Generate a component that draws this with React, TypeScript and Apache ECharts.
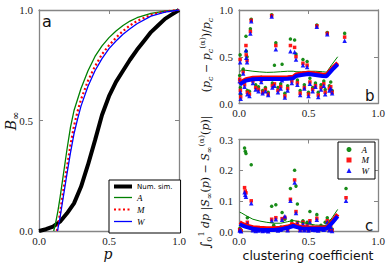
import React, { useEffect, useRef } from 'react';
import * as echarts from 'echarts';

// ---------- Panel a : B_inf vs p ----------
const simP = [0, 0.05, 0.1, 0.15, 0.2, 0.25, 0.3, 0.35, 0.4, 0.45, 0.5, 0.55, 0.6, 0.65, 0.7, 0.75, 0.8, 0.85, 0.9, 0.95, 1.0];
const simB = [0, 0.008, 0.02, 0.042, 0.08, 0.125, 0.2, 0.3, 0.41, 0.525, 0.61, 0.675, 0.725, 0.775, 0.82, 0.86, 0.9, 0.93, 0.96, 0.98, 1.0];
const modelAP = [0.105, 0.12, 0.135, 0.15, 0.175, 0.2, 0.225, 0.25, 0.3, 0.35, 0.4, 0.45, 0.5, 0.55, 0.6, 0.65, 0.7, 0.8, 0.9, 1.0];
const modelAB = [0, 0.04, 0.09, 0.15, 0.26, 0.37, 0.47, 0.545, 0.645, 0.725, 0.79, 0.838, 0.875, 0.905, 0.93, 0.95, 0.965, 0.985, 0.995, 1.0];
const modelMP = [0.128, 0.14, 0.15, 0.175, 0.2, 0.225, 0.25, 0.275, 0.3, 0.35, 0.4, 0.45, 0.5, 0.55, 0.6, 0.65, 0.7, 0.8, 0.9, 1.0];
const modelMB = [0, 0.04, 0.08, 0.19, 0.29, 0.39, 0.475, 0.54, 0.595, 0.68, 0.745, 0.8, 0.84, 0.875, 0.905, 0.93, 0.95, 0.978, 0.993, 1.0];
const modelWP = [0.132, 0.15, 0.175, 0.2, 0.225, 0.25, 0.275, 0.3, 0.35, 0.4, 0.45, 0.5, 0.55, 0.6, 0.65, 0.7, 0.8, 0.9, 1.0];
const modelWB = [0, 0.06, 0.16, 0.26, 0.355, 0.44, 0.505, 0.565, 0.655, 0.725, 0.78, 0.825, 0.86, 0.89, 0.915, 0.938, 0.972, 0.99, 1.0];

// ---------- Panel b : relative threshold error vs clustering ----------
const bX = [0.005, 0.008, 0.01, 0.012, 0.03, 0.04, 0.05, 0.052, 0.058, 0.06, 0.075, 0.082, 0.088, 0.1, 0.12, 0.14, 0.16, 0.17, 0.19, 0.21, 0.235, 0.24, 0.255, 0.265, 0.28, 0.3, 0.31, 0.33, 0.35, 0.37, 0.38, 0.4, 0.41, 0.42, 0.44, 0.46, 0.47, 0.49, 0.5, 0.51, 0.53, 0.55, 0.56, 0.57, 0.59, 0.61, 0.62, 0.635, 0.65, 0.66, 0.67, 0.76];
const bA = [0.3, 0.52, 0.17, 0.1, 0.37, 0.23, 0.72, 0.56, 0.5, 0.14, 0.13, 0.8, 0.9, 0.27, 0.2, 0.18, 0.28, 0.14, 0.17, 0.12, 0.95, 0.22, 0.41, 0.65, 0.17, 0.21, 0.42, 0.11, 0.19, 0.69, 0.27, 0.68, 0.53, 0.25, 0.14, 0.47, 0.2, 0.45, 0.12, 0.27, 0.17, 0.22, 0.84, 0.12, 0.2, 0.24, 0.15, 0.76, 0.19, 0.23, 0.14, 0.75];
const bM = [0.26, 0.47, 0.14, 0.07, 0.34, 0.2, 0.62, 0.52, 0.46, 0.12, 0.1, 0.77, 0.89, 0.24, 0.17, 0.15, 0.25, 0.12, 0.15, 0.1, 0.94, 0.19, 0.21, 0.62, 0.14, 0.18, 0.27, 0.08, 0.16, 0.62, 0.24, 0.6, 0.5, 0.22, 0.11, 0.43, 0.17, 0.41, 0.1, 0.23, 0.15, 0.19, 0.83, 0.09, 0.17, 0.21, 0.12, 0.75, 0.16, 0.18, 0.12, 0.71];
const bW = [0.24, 0.44, 0.12, 0.05, 0.32, 0.18, 0.57, 0.49, 0.44, 0.1, 0.08, 0.75, 0.88, 0.22, 0.15, 0.13, 0.23, 0.11, 0.13, 0.09, 0.93, 0.17, 0.19, 0.58, 0.12, 0.16, 0.25, 0.065, 0.14, 0.56, 0.22, 0.55, 0.47, 0.2, 0.09, 0.41, 0.16, 0.39, 0.08, 0.21, 0.13, 0.18, 0.82, 0.07, 0.15, 0.19, 0.1, 0.74, 0.14, 0.16, 0.11, 0.67];
const bLineX = [0.005, 0.02, 0.05, 0.1, 0.15, 0.2, 0.25, 0.3, 0.35, 0.39, 0.41, 0.45, 0.5, 0.55, 0.6, 0.63, 0.67, 0.71];
const bLineA = [0.34, 0.36, 0.355, 0.345, 0.338, 0.333, 0.335, 0.34, 0.345, 0.345, 0.34, 0.338, 0.345, 0.345, 0.34, 0.335, 0.42, 0.5];
const bLineM = [0.215, 0.235, 0.26, 0.275, 0.277, 0.277, 0.277, 0.277, 0.28, 0.285, 0.31, 0.32, 0.33, 0.32, 0.31, 0.307, 0.375, 0.435];
const bLineW = [0.2, 0.22, 0.245, 0.26, 0.262, 0.262, 0.262, 0.262, 0.265, 0.27, 0.295, 0.305, 0.315, 0.305, 0.295, 0.292, 0.36, 0.42];

// ---------- Panel c : integrated difference vs clustering ----------
const cX = [0.005, 0.01, 0.015, 0.04, 0.045, 0.05, 0.06, 0.088, 0.1, 0.12, 0.14, 0.17, 0.19, 0.21, 0.235, 0.25, 0.265, 0.28, 0.3, 0.31, 0.33, 0.35, 0.37, 0.38, 0.4, 0.41, 0.42, 0.44, 0.46, 0.47, 0.49, 0.5, 0.51, 0.53, 0.55, 0.56, 0.57, 0.59, 0.61, 0.62, 0.635, 0.65, 0.66, 0.67, 0.77];
const cA = [0.01, 0.007, 0.004, 0.272, 0.262, 0.254, 0.045, 0.218, 0.012, 0.008, 0.01, 0.006, 0.009, 0.005, 0.082, 0.02, 0.087, 0.008, 0.015, 0.062, 0.04, 0.01, 0.14, 0.035, 0.2, 0.148, 0.09, 0.01, 0.035, 0.012, 0.03, 0.008, 0.065, 0.015, 0.012, 0.055, 0.01, 0.02, 0.015, 0.03, 0.045, 0.012, 0.035, 0.008, 0.14];
const cM = [0.006, 0.004, 0.002, 0.143, 0.132, 0.126, 0.03, 0.1, 0.006, 0.004, 0.005, 0.003, 0.004, 0.002, 0.04, 0.012, 0.045, 0.004, 0.008, 0.042, 0.046, 0.005, 0.105, 0.025, 0.168, 0.065, 0.03, 0.005, 0.03, 0.006, 0.02, 0.004, 0.035, 0.008, 0.007, 0.043, 0.005, 0.01, 0.008, 0.015, 0.035, 0.006, 0.02, 0.004, 0.11];
const cW = [0.004, 0.003, 0.001, 0.128, 0.12, 0.113, 0.025, 0.092, 0.004, 0.002, 0.003, 0.002, 0.003, 0.001, 0.035, 0.01, 0.04, 0.003, 0.006, 0.038, 0.05, 0.004, 0.1, 0.02, 0.16, 0.06, 0.025, 0.004, 0.025, 0.004, 0.018, 0.003, 0.03, 0.006, 0.005, 0.038, 0.003, 0.008, 0.006, 0.012, 0.03, 0.004, 0.015, 0.002, 0.1];
const cLineX = [0.005, 0.02, 0.05, 0.1, 0.15, 0.2, 0.25, 0.3, 0.35, 0.39, 0.41, 0.45, 0.5, 0.55, 0.6, 0.63, 0.67, 0.71];
const cLineA = [0.063, 0.06, 0.052, 0.04, 0.034, 0.03, 0.027, 0.027, 0.032, 0.036, 0.034, 0.03, 0.025, 0.021, 0.02, 0.02, 0.045, 0.072];
const cLineM = [0.03, 0.026, 0.02, 0.014, 0.012, 0.011, 0.011, 0.012, 0.016, 0.022, 0.019, 0.015, 0.013, 0.013, 0.013, 0.013, 0.032, 0.056];
const cLineW = [0.024, 0.02, 0.015, 0.009, 0.006, 0.005, 0.005, 0.007, 0.012, 0.018, 0.015, 0.01, 0.009, 0.009, 0.009, 0.009, 0.028, 0.05];

const zip = (xs: number[], ys: number[]) => xs.map((x, i) => [x, ys[i]]);

const GREEN = '#008000';
const RED = '#ff0000';
const BLUE = '#0000ff';
const FRAME = '#858585';

function makeX(grid: number, pos: 'bottom' | 'top', labels: boolean) {
  return {
    type: 'value', gridIndex: grid, position: pos, min: 0, max: 1, interval: 0.5,
    axisLine: { onZero: false, lineStyle: { color: FRAME, width: 1.3 } },
    axisTick: { inside: true, length: 4, lineStyle: { color: FRAME } },
    splitLine: { show: false },
    axisLabel: {
      show: labels, margin: 4, showMinLabel: true, showMaxLabel: true,
      fontFamily: 'Liberation Serif', fontSize: 11, color: '#222',
      formatter: (v: number) => v.toFixed(1),
    },
  };
}
function makeY(grid: number, pos: 'left' | 'right', max: number, interval: number, labels: boolean) {
  return {
    type: 'value', gridIndex: grid, position: pos, min: 0, max, interval,
    axisLine: { onZero: false, lineStyle: { color: FRAME, width: 1.3 } },
    axisTick: { inside: true, length: 4, lineStyle: { color: FRAME } },
    splitLine: { show: false },
    axisLabel: {
      show: labels, margin: 6, showMinLabel: true, showMaxLabel: true,
      fontFamily: 'Liberation Serif', fontSize: 11, color: '#222',
      formatter: (v: number) => v.toFixed(1),
    },
  };
}

const mathRich = {
  n: { fontFamily: 'DejaVu Serif', fontSize: 11, lineHeight: 16, verticalAlign: 'middle', fill: '#111' },
  i: { fontFamily: 'DejaVu Serif', fontStyle: 'italic', fontSize: 11, lineHeight: 16, verticalAlign: 'middle', fill: '#111' },
  I: { fontFamily: 'DejaVu Serif', fontStyle: 'italic', fontSize: 14, lineHeight: 18, verticalAlign: 'middle', fill: '#111' },
  big: { fontFamily: 'DejaVu Serif', fontSize: 13, lineHeight: 16, verticalAlign: 'middle', fill: '#111' },
  sb: { fontFamily: 'DejaVu Serif', fontStyle: 'italic', fontSize: 8, lineHeight: 8, verticalAlign: 'bottom', fill: '#111' },
  sbn: { fontFamily: 'DejaVu Serif', fontSize: 8, lineHeight: 8, verticalAlign: 'bottom', fill: '#111' },
  sbB: { fontFamily: 'DejaVu Serif', fontSize: 10, lineHeight: 10, verticalAlign: 'bottom', fill: '#111' },
  sp: { fontFamily: 'DejaVu Serif', fontSize: 8, lineHeight: 8, verticalAlign: 'top', fill: '#111' },
};

function mathText(x: number, y: number, text: string, rotate: boolean) {
  return {
    type: 'text', x, y, rotation: rotate ? Math.PI / 2 : 0,
    style: { text, rich: mathRich, align: 'center', verticalAlign: 'middle', fill: '#111' },
  };
}

function sansText(x: number, y: number, text: string, size: number, align: string) {
  return {
    type: 'text', x, y,
    style: { text, fontFamily: 'DejaVu Sans', fontSize: size, fill: '#111', align, verticalAlign: 'middle' },
  };
}

export default function App() {
  const ref = useRef<HTMLDivElement>(null);
  useEffect(() => {
    if (!ref.current) return;
    const chart = echarts.init(ref.current, undefined, { renderer: 'svg' });
    const scatterSeries = (name: string, xi: number, xs: number[], ys: number[], color: string, symbol: string, size: number) => ({
      name, type: 'scatter', xAxisIndex: xi, yAxisIndex: xi, data: zip(xs, ys),
      symbol, symbolSize: size,
      itemStyle: { color, opacity: 0.9 }, z: 2,
    });
    const lineSeries = (name: string, xi: number, xs: number[], ys: number[], color: string, width: number, z: number, type: any = 'solid') => ({
      name, type: 'line', xAxisIndex: xi, yAxisIndex: xi, data: zip(xs, ys),
      symbol: 'none', showSymbol: false, smooth: false,
      lineStyle: { color, width, type }, itemStyle: { color }, z,
    });
    const hidden = { opacity: 0, color: 'rgba(0,0,0,0)', borderWidth: 0 };
    chart.setOption({
      animation: false,
      backgroundColor: '#fff',
      grid: [
        { left: 39, top: 10, width: 140, height: 221 },
        { left: 239, top: 10, width: 139, height: 93.5 },
        { left: 239, top: 139.5, width: 139, height: 92 },
      ],
      xAxis: [
        makeX(0, 'bottom', true), makeX(0, 'top', false),
        makeX(1, 'bottom', true), makeX(1, 'top', false),
        makeX(2, 'bottom', true), makeX(2, 'top', false),
      ],
      yAxis: [
        makeY(0, 'left', 1, 0.5, true), makeY(0, 'right', 1, 0.5, false),
        makeY(1, 'left', 1, 0.5, true), makeY(1, 'right', 1, 0.5, false),
        makeY(2, 'left', 0.3, 0.1, true), makeY(2, 'right', 0.3, 0.1, false),
      ],
      legend: [
        {
          orient: 'vertical', left: 109, top: 180,
          itemWidth: 18, itemHeight: 8, itemGap: 3,
          padding: [3, 8, 7, 3],
          borderColor: '#000', borderWidth: 1, backgroundColor: '#fff', borderRadius: 0,
          data: [
            { name: 'Num. sim.', lineStyle: { width: 4, color: '#000' }, itemStyle: hidden },
            { name: 'A(a)', lineStyle: { width: 1.3, color: GREEN }, itemStyle: hidden },
            { name: 'M(a)', lineStyle: { width: 2.2, color: RED, type: [2, 2.5] }, itemStyle: hidden },
            { name: 'W(a)', lineStyle: { width: 1.3, color: BLUE }, itemStyle: hidden },
          ],
          formatter: (n: string) => (n === 'Num. sim.' ? n : '{i|' + n[0] + '}'),
          textStyle: {
            fontFamily: 'DejaVu Sans', fontSize: 7, color: '#000',
            rich: { i: { fontFamily: 'Liberation Serif', fontStyle: 'italic', fontSize: 9, color: '#000' } },
          },
        },
        {
          orient: 'vertical', left: 338, top: 142,
          itemWidth: 5, itemHeight: 5, itemGap: 1.5,
          padding: [3, 6, 4, 8.5],
          borderColor: '#000', borderWidth: 1, backgroundColor: '#fff', borderRadius: 0,
          data: ['A', 'M', 'W'],
          formatter: (n: string) => '{i|' + n + '}',
          textStyle: {
            color: '#000',
            rich: { i: { fontFamily: 'Liberation Serif', fontStyle: 'italic', fontSize: 9, color: '#000', lineHeight: 10, padding: [0, 0, 0, 5] } },
          },
        },
      ],
      series: [
        lineSeries('Num. sim.', 0, simP, simB, '#000', 4, 3),
        lineSeries('A(a)', 0, modelAP, modelAB, GREEN, 1.3, 4),
        lineSeries('M(a)', 0, modelMP, modelMB, RED, 2.2, 5, [2, 2.5]),
        lineSeries('W(a)', 0, modelWP, modelWB, BLUE, 1.3, 6),

        scatterSeries('A(b)', 2, bX, bA, GREEN, 'circle', 3.5),
        scatterSeries('M(b)', 2, bX, bM, RED, 'rect', 3.5),
        scatterSeries('W(b)', 2, bX, bW, BLUE, 'triangle', 4.5),
        lineSeries('Aline(b)', 2, bLineX, bLineA, GREEN, 1, 6),
        lineSeries('Mline(b)', 2, bLineX, bLineM, RED, 4, 7),
        lineSeries('Wline(b)', 2, bLineX, bLineW, BLUE, 4, 8),

        scatterSeries('A', 4, cX, cA, GREEN, 'circle', 3.5),
        scatterSeries('M', 4, cX, cM, RED, 'rect', 3.5),
        scatterSeries('W', 4, cX, cW, BLUE, 'triangle', 4.5),
        lineSeries('Aline(c)', 4, cLineX, cLineA, GREEN, 1, 6),
        lineSeries('Mline(c)', 4, cLineX, cLineM, RED, 4, 7),
        lineSeries('Wline(c)', 4, cLineX, cLineW, BLUE, 4, 8),
      ],
      graphic: [
        sansText(42, 21, 'a', 16, 'left'),
        sansText(365, 96, 'b', 15, 'left'),
        sansText(365, 225.5, 'c', 15, 'left'),
        sansText(308, 255, 'clustering coefficient', 12.5, 'center'),
        mathText(108, 254, '{I|p}', false),
        mathText(11, 121, '{I|B}{sbB|∞}', true),
        mathText(206, 55, '{n|(}{i|p}{sb|c}{n| − }{i|p}{sb|c}{sp|(α)}{n|)/}{i|p}{sb|c}', true),
        mathText(205, 182, '{big|∫}{sbn|0}{sp|1}{i| dp }{n||}{i|S}{sbn|∞}{n|(}{i|p}{n|) − }{i|S}{sbn|∞}{sp|(α)}{n|(}{i|p}{n|)|}', true),
      ],
    });
    return () => chart.dispose();
  }, []);
  return <div ref={ref} style={{ position: 'fixed', left: 0, top: 0, width: 390, height: 268 }} />;
}
